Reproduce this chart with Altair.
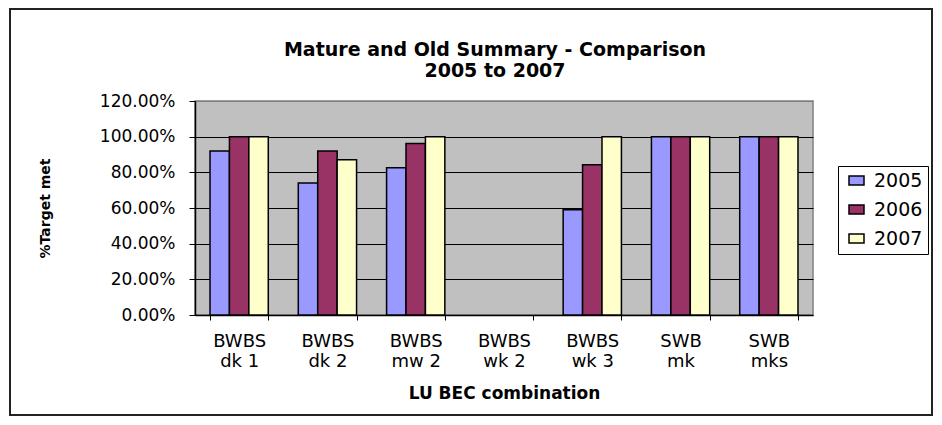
import altair as alt
import pandas as pd

categories = ["BWBS dk 1", "BWBS dk 2", "BWBS mw 2", "BWBS wk 2", "BWBS wk 3", "SWB mk", "SWB mks"]
years = ["2005", "2006", "2007"]
v2005 = [0.92, 0.74, 0.826, None, 0.59, 1.00, 1.00]
v2006 = [1.00, 0.92, 0.961, None, 0.843, 1.00, 1.00]
v2007 = [1.00, 0.87, 1.00, None, 1.00, 1.00, 1.00]
colors = ["#9999FF", "#993366", "#FFFFCC"]
y_ticks = [0, 0.2, 0.4, 0.6, 0.8, 1.0, 1.2]
title_lines = ["Mature and Old Summary - Comparison", "2005 to 2007"]

rows = []
for yr, vals in zip(years, [v2005, v2006, v2007]):
    for c, v in zip(categories, vals):
        rows.append({"cat": c, "year": yr, "value": v})
df = pd.DataFrame(rows)

FONT = "DejaVu Sans"

bars = alt.Chart(df).mark_bar(stroke="black", strokeWidth=1.5).encode(
    x=alt.X(
        "cat:N",
        sort=categories,
        scale=alt.Scale(domain=categories, paddingInner=0.34, paddingOuter=0.17),
        axis=alt.Axis(
            title="LU BEC combination",
            titleFont=FONT,
            titleFontSize=17,
            titleFontWeight="bold",
            titleColor="black",
            titleY=70,
            titleBaseline="top",
            labelFont=FONT,
            labelFontSize=18,
            labelColor="black",
            labelAngle=0,
            labelPadding=12,
            labelLineHeight=20,
            labelBaseline="top",
            labelExpr="[slice(datum.label, 0, indexof(datum.label, ' ')), slice(datum.label, indexof(datum.label, ' ') + 1)]",
            tickBand="extent",
            tickSize=5,
            tickColor="black",
            domainColor="black",
            domainWidth=1.5,
        ),
    ),
    xOffset=alt.XOffset("year:N", sort=years, scale=alt.Scale(domain=years, paddingInner=0, paddingOuter=0)),
    y=alt.Y(
        "value:Q",
        scale=alt.Scale(domain=[0, 1.2], nice=False),
        axis=alt.Axis(
            title="%Target met",
            titleFont=FONT,
            titleFontSize=14,
            titleFontWeight="bold",
            titleColor="black",
            titleAngle=270,
            titleX=-150,
            titleY=107,
            titleAlign="center",
            titleBaseline="middle",
            values=y_ticks,
            format=".2%",
            labelFont=FONT,
            labelFontSize=17,
            labelColor="black",
            labelPadding=14,
            tickSize=6,
            tickColor="black",
            domainColor="black",
            domainWidth=1.5,
            grid=True,
            gridColor=alt.condition("datum.value >= 1.2", alt.value("#808080"), alt.value("black")),
            gridWidth=1,
        ),
    ),
    color=alt.Color(
        "year:N",
        sort=years,
        scale=alt.Scale(domain=years, range=colors),
        legend=alt.Legend(
            title=None,
            orient="none",
            legendX=643,
            legendY=65,
            padding=5,
            strokeColor="black",
            fillColor="white",
            labelFont=FONT,
            labelFontSize=19,
            labelColor="black",
            labelOffset=8,
            rowPadding=9,
            symbolType="M-1,-0.6H1V0.6H-1Z",
            symbolSize=225,
            symbolOffset=4,
            symbolStrokeColor="black",
            symbolStrokeWidth=1.5,
        ),
    ),
)

frame = alt.Chart(alt.Data(values=[{}])).mark_rect(
    fill="white", fillOpacity=0, stroke="#222222", strokeWidth=2
).encode(
    x=alt.value(-185), x2=alt.value(737), y=alt.value(-92), y2=alt.value(314)
)

chart = alt.layer(frame, bars).properties(
    width=618,
    height=214,
    title=alt.TitleParams(
        text=title_lines,
        font=FONT,
        fontSize=19,
        fontWeight="bold",
        color="black",
        lineHeight=21,
        anchor="middle",
        dx=-9,
        offset=-73,
    ),
    padding={"left": 187, "top": 93, "right": 120, "bottom": 101},
    autosize=alt.AutoSizeParams(type="none"),
    background="white",
).configure_view(
    fill="#C0C0C0", stroke="#808080", strokeWidth=1.5
)

chart.save("out.html", embed_options={"renderer": "svg", "actions": False})
